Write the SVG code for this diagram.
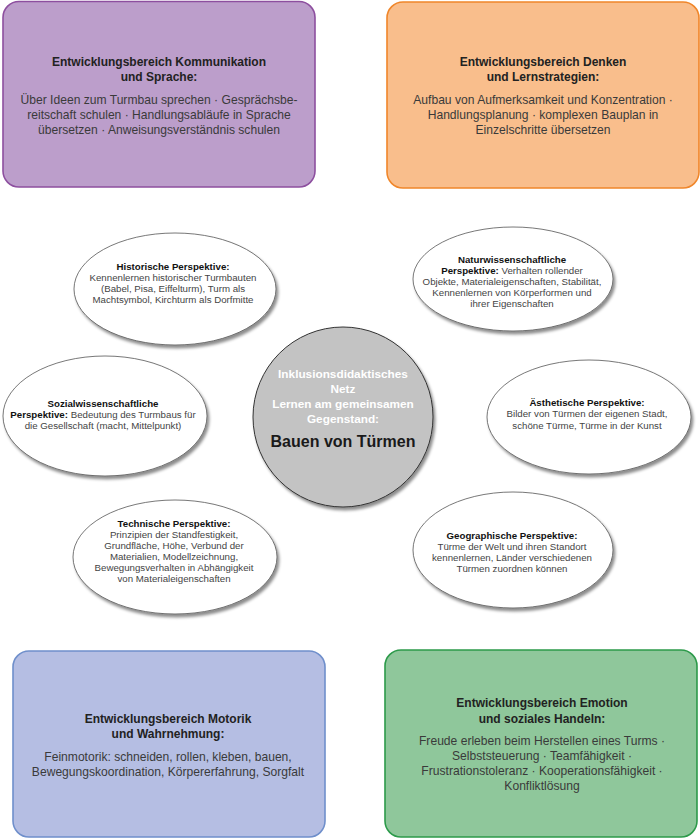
<svg xmlns="http://www.w3.org/2000/svg" width="700" height="838" viewBox="0 0 700 838">
<defs>
<filter id="sh" x="-10%" y="-10%" width="125%" height="130%">
<feDropShadow dx="2" dy="3" stdDeviation="1.8" flood-color="#000" flood-opacity="0.45"/>
</filter>
<style>
.box{stroke-width:1.6}
.bt{font-family:"Liberation Sans",Arial,sans-serif;font-size:12px;font-weight:bold;fill:#222;text-anchor:middle}
.bb{font-family:"Liberation Sans",Arial,sans-serif;font-size:12.1px;fill:#3a3a3a;text-anchor:middle}
.ell{fill:#fff;stroke:#555;stroke-width:0.8;filter:url(#sh)}
.et{font-family:"Liberation Sans",Arial,sans-serif;font-size:9.7px;fill:#444;text-anchor:middle}
.b{font-weight:bold;fill:#111}
.cw{font-family:"Liberation Sans",Arial,sans-serif;font-size:11.8px;font-weight:bold;fill:#fff;text-anchor:middle}
.cb{font-family:"Liberation Sans",Arial,sans-serif;font-size:16px;font-weight:bold;fill:#1a1a1a;text-anchor:middle}
</style>
</defs>
<rect width="700" height="838" fill="#fff"/>
<g id="connectors"/>

<g id="kommunikation">
<rect class="box" x="3" y="1.5" width="312" height="185.5" rx="16" fill="#bc9ecb" stroke="#8d4f9f"/>
<text class="bt" x="159" y="66.3">Entwicklungsbereich Kommunikation</text>
<text class="bt" x="159" y="81.3">und Sprache:</text>
<text class="bb" x="159" y="104.3">Über Ideen zum Turmbau sprechen · Gesprächsbe-</text>
<text class="bb" x="159" y="119">reitschaft schulen · Handlungsabläufe in Sprache</text>
<text class="bb" x="159" y="133.5">übersetzen · Anweisungsverständnis schulen</text>
</g>

<g id="denken">
<rect class="box" x="387" y="2" width="312" height="186" rx="16" fill="#f9be8c" stroke="#f0862a"/>
<text class="bt" x="543" y="66.3">Entwicklungsbereich Denken</text>
<text class="bt" x="543" y="81.3">und Lernstrategien:</text>
<text class="bb" x="543" y="104.3">Aufbau von Aufmerksamkeit und Konzentration ·</text>
<text class="bb" x="543" y="119">Handlungsplanung · komplexen Bauplan in</text>
<text class="bb" x="543" y="133.5">Einzelschritte übersetzen</text>
</g>

<g id="historisch">
<ellipse class="ell" cx="175" cy="289" rx="101" ry="56"/>
<text class="et" x="173" y="269.5"><tspan class="b">Historische Perspektive:</tspan></text>
<text class="et" x="173" y="280.5">Kennenlernen historischer Turmbauten</text>
<text class="et" x="173" y="291.5">(Babel, Pisa, Eiffelturm), Turm als</text>
<text class="et" x="173" y="302.5">Machtsymbol, Kirchturm als Dorfmitte</text>
</g>

<g id="natur">
<ellipse class="ell" cx="513" cy="279" rx="100" ry="52"/>
<text class="et" x="512" y="262.5"><tspan class="b">Naturwissenschaftliche</tspan></text>
<text class="et" x="512" y="273.5"><tspan class="b">Perspektive:</tspan> Verhalten rollender</text>
<text class="et" x="512" y="284.5">Objekte, Materialeigenschaften, Stabilität,</text>
<text class="et" x="512" y="295.5">Kennenlernen von Körperformen und</text>
<text class="et" x="512" y="306.5">ihrer Eigenschaften</text>
</g>

<g id="sozial">
<ellipse class="ell" cx="105" cy="416" rx="102" ry="60"/>
<text class="et" x="103" y="406.5"><tspan class="b">Sozialwissenschaftliche</tspan></text>
<text class="et" x="103" y="417.5"><tspan class="b">Perspektive:</tspan> Bedeutung des Turmbaus für</text>
<text class="et" x="103" y="428.5">die Gesellschaft (macht, Mittelpunkt)</text>
</g>

<g id="zentrum">
<circle cx="343" cy="417" r="90" fill="#c3c3c3" stroke="#333" stroke-width="1" filter="url(#sh)"/>
<text class="cw" x="343" y="377.5">Inklusionsdidaktisches</text>
<text class="cw" x="343" y="393">Netz</text>
<text class="cw" x="343" y="408">Lernen am gemeinsamen</text>
<text class="cw" x="343" y="423">Gegenstand:</text>
<text class="cb" x="343" y="446.5">Bauen von Türmen</text>
</g>

<g id="aesthetisch">
<ellipse class="ell" cx="589" cy="417" rx="102" ry="57"/>
<text class="et" x="587" y="405.5"><tspan class="b">Ästhetische Perspektive:</tspan></text>
<text class="et" x="587" y="417">Bilder von Türmen der eigenen Stadt,</text>
<text class="et" x="587" y="428.5">schöne Türme, Türme in der Kunst</text>
</g>

<g id="technisch">
<ellipse class="ell" cx="175" cy="557" rx="102" ry="57"/>
<text class="et" x="174" y="526.5"><tspan class="b">Technische Perspektive:</tspan></text>
<text class="et" x="174" y="537.5">Prinzipien der Standfestigkeit,</text>
<text class="et" x="174" y="548.5">Grundfläche, Höhe, Verbund der</text>
<text class="et" x="174" y="559.5">Materialien, Modellzeichnung,</text>
<text class="et" x="174" y="570.5">Bewegungsverhalten in Abhängigkeit</text>
<text class="et" x="174" y="581.5">von Materialeigenschaften</text>
</g>

<g id="geographisch">
<ellipse class="ell" cx="513" cy="550" rx="100" ry="58"/>
<text class="et" x="512" y="538.5"><tspan class="b">Geographische Perspektive:</tspan></text>
<text class="et" x="512" y="549.5">Türme der Welt und ihren Standort</text>
<text class="et" x="512" y="560.5">kennenlernen, Länder verschiedenen</text>
<text class="et" x="512" y="571.5">Türmen zuordnen können</text>
</g>

<g id="motorik">
<rect class="box" x="13" y="651" width="312" height="186" rx="16" fill="#b5bee3" stroke="#6f8fcb"/>
<text class="bt" x="168" y="723.3">Entwicklungsbereich Motorik</text>
<text class="bt" x="168" y="738.3">und Wahrnehmung:</text>
<text class="bb" x="168" y="761">Feinmotorik: schneiden, rollen, kleben, bauen,</text>
<text class="bb" x="168" y="776">Bewegungskoordination, Körpererfahrung, Sorgfalt</text>
</g>

<g id="emotion">
<rect class="box" x="385" y="650" width="312" height="187" rx="16" fill="#8fc79b" stroke="#2c9a4a"/>
<text class="bt" x="542" y="707.3">Entwicklungsbereich Emotion</text>
<text class="bt" x="542" y="722.8">und soziales Handeln:</text>
<text class="bb" x="542" y="744.5">Freude erleben beim Herstellen eines Turms ·</text>
<text class="bb" x="542" y="759.5">Selbststeuerung · Teamfähigkeit ·</text>
<text class="bb" x="542" y="774.5">Frustrationstoleranz · Kooperationsfähigkeit ·</text>
<text class="bb" x="542" y="789.5">Konfliktlösung</text>
</g>
</svg>
